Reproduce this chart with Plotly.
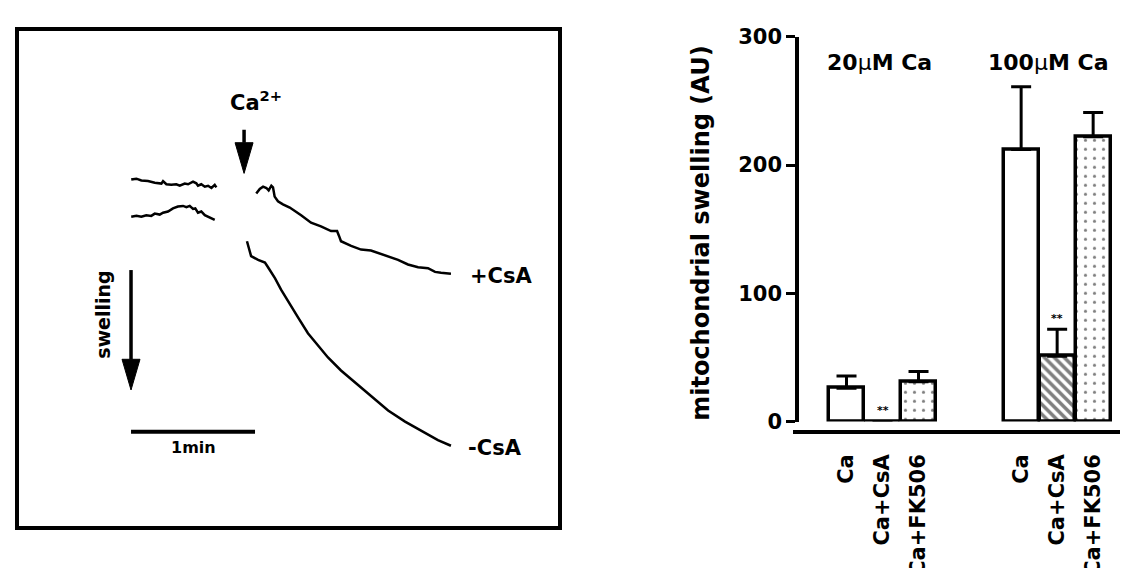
import plotly.graph_objects as go

# ---------------- Left panel: swelling traces (time in s, signal in AU) ----------------
pre_top_t = [0.1, 2.6, 5.0, 8.2, 11.5, 14.7, 15.5, 17.1, 19.5, 21.9, 23.6, 26.0, 27.6, 30.0,
             31.6, 32.4, 34.0, 35.7, 37.3, 38.9, 40.5, 41.3]
pre_top_v = [128.3, 129.3, 127.3, 126.7, 125, 124, 126.7, 123.3, 122.7, 123.3, 121.7, 124, 123.3,
             126, 124.3, 121.7, 123.3, 120.7, 121.7, 119.3, 122.7, 120]

pre_bot_t = [0.1, 2.6, 5.0, 7.4, 9.8, 11.5, 13.9, 15.5, 17.9, 20.3, 22.7, 25.2, 26.8, 28.4, 30.0,
             31.1, 32.4, 34.0, 35.7, 37.3, 38.9, 40.5]
pre_bot_v = [88.3, 89.3, 88.3, 90, 89.3, 91.7, 90.7, 92.7, 94, 97.3, 99.3, 100, 98.7, 100, 96.7,
             97.3, 92.7, 94, 90, 88.3, 86, 85]

plus_csa_t = [60.6, 62.3, 63.9, 65.5, 66.6, 67.9, 68.7, 69.5, 71.1, 73.5, 76.8, 79.2, 82.3, 87.1,
              91.9, 96.8, 99.7, 100.6, 101.6, 106.5, 111.3, 116.1, 121.0, 125.8, 129.2, 134.0,
              138.9, 143.7, 147.1, 150.0, 154.8]
plus_csa_v = [113.3, 118.3, 120.7, 119.3, 116.7, 121.7, 120, 110, 105, 101.7, 98.3, 95, 90, 82,
              78, 73, 73, 68, 62, 57, 53, 52, 48, 44, 42, 37, 34, 33, 29, 28, 27]

minus_csa_t = [56.1, 58.1, 61.5, 64.8, 66.3, 69.7, 72.6, 76.0, 80.8, 85.6, 90.5, 95.3, 101.6,
               108.4, 116.1, 124.4, 132.6, 140.3, 148.5, 154.8]
minus_csa_v = [62, 46, 42, 39, 34, 22, 10, -3, -20, -37, -50, -63, -77, -90, -105, -120, -132,
               -142, -152, -158]

# ---------------- Right panel: bar data ----------------
categories = ["Ca", "Ca+CsA", "Ca+FK506"]
group_titles = ["20<span style='font-weight:normal'>\u00b5</span>M Ca",
                "100<span style='font-weight:normal'>\u00b5</span>M Ca"]
swelling_20 = [26, 0, 31]
err_20 = [9.5, 0, 8]
swelling_100 = [212, 51, 222]
err_100 = [49, 21, 19]
y_ticks = [0, 100, 200, 300]

FONT = "DejaVu Sans"
W, H = 1128, 568

fig = go.Figure()

# left-panel traces
for t, v in [(pre_top_t, pre_top_v), (pre_bot_t, pre_bot_v),
             (plus_csa_t, plus_csa_v), (minus_csa_t, minus_csa_v)]:
    fig.add_trace(go.Scatter(x=t, y=v, mode="lines", xaxis="x2", yaxis="y2",
                             line=dict(color="black", width=2.5), showlegend=False,
                             hoverinfo="skip"))

# bars
g1 = [0, 1, 2]
g2 = [4.85, 5.85, 6.85]
styles = [
    None,
    dict(shape="\\", size=7, solidity=0.5),
    dict(shape=".", size=9, solidity=0.1),
]
for i in range(3):
    marker = dict(color="white", line=dict(color="black", width=3.5))
    if styles[i]:
        marker["pattern"] = dict(fgcolor="black", bgcolor="white", **styles[i])
    fig.add_trace(go.Bar(
        x=[g1[i], g2[i]], y=[swelling_20[i], swelling_100[i]], width=0.97,
        marker=marker, cliponaxis=False, showlegend=False,
        error_y=dict(type="data", symmetric=False, array=[err_20[i], err_100[i]],
                     arrayminus=[0, 0], color="black", thickness=3, width=10,
                     visible=True)))

fig.update_layout(
    width=W, height=H, margin=dict(l=0, r=0, t=0, b=0),
    paper_bgcolor="white", plot_bgcolor="white",
    font=dict(family=FONT, color="black", size=21),
    barmode="overlay", bargap=0,
    xaxis=dict(domain=[785 / W, 1.0], anchor="free", position=(H - 443) / H,
               range=[-1.486, 8.04], showline=True, linecolor="black", linewidth=4,
               showgrid=False, zeroline=False,
               tickmode="array", tickvals=g1 + g2, ticktext=categories * 2,
               tickangle=-90, ticks="outside", ticklen=12, tickcolor="rgba(0,0,0,0)",
               tickfont=dict(family=FONT, size=21, color="black", weight="bold")),
    yaxis=dict(domain=[(H - 432) / H, (H - 18) / H], anchor="free", position=789 / W,
               range=[0, 300], showline=True, linecolor="black", linewidth=3.5,
               showgrid=False, zeroline=False, tickmode="array", tickvals=y_ticks,
               ticks="outside", ticklen=9, tickwidth=3, tickcolor="black",
               tickfont=dict(family=FONT, size=21, color="black", weight="bold")),
    xaxis2=dict(domain=[11 / W, 550 / W], anchor="y2", range=[-54.2, 206.6],
                showline=True, mirror=True, linecolor="black", linewidth=3.5,
                showgrid=False, zeroline=False, showticklabels=False, ticks=""),
    yaxis2=dict(domain=[(H - 544) / H, (H - 12) / H], anchor="x2", range=[-244, 288],
                showline=True, mirror=True, linecolor="black", linewidth=3.5,
                showgrid=False, zeroline=False, showticklabels=False, ticks=""),
)

bold = dict(family=FONT, color="black", size=21, weight="bold")

# left-panel shapes: arrows and scale bar (data coordinates)
ca_t, ca_shaft_top, ca_head_top, ca_tip, head_half = 54.7, 182, 168, 135, 4.35
sw_t, sw_top, sw_head_top, sw_tip = 0.0, 31, -65, -98
scale_t0, scale_t1, scale_v = 0, 60, -143
shapes = [
    dict(type="line", xref="x2", yref="y2", x0=ca_t, x1=ca_t, y0=ca_shaft_top, y1=ca_head_top,
         line=dict(color="black", width=3.5)),
    dict(type="path", xref="x2", yref="y2",
         path=f"M {ca_t - head_half} {ca_head_top} L {ca_t + head_half} {ca_head_top} L {ca_t} {ca_tip} Z",
         fillcolor="black", line=dict(color="black", width=1)),
    dict(type="line", xref="x2", yref="y2", x0=sw_t, x1=sw_t, y0=sw_top, y1=sw_head_top,
         line=dict(color="black", width=3.5)),
    dict(type="path", xref="x2", yref="y2",
         path=f"M {sw_t - head_half} {sw_head_top} L {sw_t + head_half} {sw_head_top} L {sw_t} {sw_tip} Z",
         fillcolor="black", line=dict(color="black", width=1)),
    dict(type="line", xref="x2", yref="y2", x0=scale_t0, x1=scale_t1, y0=scale_v, y1=scale_v,
         line=dict(color="black", width=4)),
]
fig.update_layout(shapes=shapes)

ann = [
    dict(x=46.9, y=213, xref="x2", yref="y2", text="Ca<sup>2+</sup>", showarrow=False,
         xanchor="left", yanchor="middle", font=bold),
    dict(x=-13.5, y=-17, xref="x2", yref="y2", text="swelling", showarrow=False,
         textangle=-90, font=dict(bold, size=19)),
    dict(x=30, y=-160, xref="x2", yref="y2", text="1min", showarrow=False,
         font=dict(bold, size=16)),
    dict(x=163.1, y=25, xref="x2", yref="y2", text="+CsA", showarrow=False,
         xanchor="left", font=bold),
    dict(x=162.1, y=-160, xref="x2", yref="y2", text="-CsA", showarrow=False,
         xanchor="left", font=bold),
    # right panel
    dict(x=0.93, y=(H - 30) / H, xref="x", yref="paper", text=group_titles[0],
         showarrow=False, font=dict(bold, size=22)),
    dict(x=5.6, y=(H - 30) / H, xref="x", yref="paper", text=group_titles[1],
         showarrow=False, font=dict(bold, size=22)),
    dict(x=693 / W, y=(H - 230) / H, xref="paper", yref="paper",
         text="mitochondrial swelling (AU)", showarrow=False, textangle=-90,
         font=dict(bold, size=24)),
    dict(x=1, y=2, xref="x", yref="y", text="**", showarrow=False, yanchor="bottom",
         font=dict(bold, size=11)),
    dict(x=5.85, y=swelling_100[1] + err_100[1] + 2, xref="x", yref="y", text="**",
         showarrow=False, yanchor="bottom", font=dict(bold, size=11)),
]
fig.update_layout(annotations=ann)

fig.write_html("out.html")
